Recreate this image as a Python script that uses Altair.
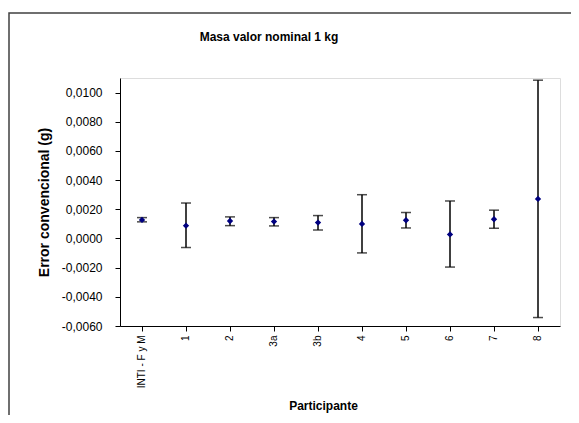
import altair as alt
import pandas as pd

participants = ["INTI - F y M", "1", "2", "3a", "3b", "4", "5", "6", "7", "8"]
values = [0.00127, 0.00088, 0.00120, 0.00116, 0.00109, 0.00100, 0.00125, 0.00028, 0.00132, 0.00271]
lower = [0.00114, -0.00062, 0.00088, 0.00086, 0.00058, -0.00099, 0.00072, -0.00196, 0.00070, -0.00542]
upper = [0.00143, 0.00243, 0.00148, 0.00143, 0.00157, 0.00300, 0.00178, 0.00257, 0.00194, 0.01085]
y_ticks = [-0.006, -0.004, -0.002, 0.0, 0.002, 0.004, 0.006, 0.008, 0.010]
chart_title = ["Masa valor nominal 1 kg"]

df = pd.DataFrame({"p": participants, "v": values, "lo": lower, "hi": upper})

FONT = "Liberation Sans"

x = alt.X("p:N", sort=participants, title="Participante",
          scale=alt.Scale(paddingInner=0, paddingOuter=0),
          axis=alt.Axis(labelAngle=-90, labelAlign="right", labelBaseline="middle",
                        labelPadding=4, tickSize=5, domainColor="black", tickColor="black",
                        labelFont=FONT, labelFontSize=10, labelColor="black",
                        titleFont=FONT, titleFontSize=12, titleFontWeight="bold",
                        titleColor="black", titlePadding=13, titleX=203, labelLimit=200))
yscale = alt.Scale(domain=[-0.006, 0.011], nice=False, zero=False)

yaxis = alt.Axis(values=y_ticks, format=",.4f", grid=False, tickSize=5,
                 domainColor="black", tickColor="black", labelPadding=13,
                 labelOverlap=False,
                 labelFont=FONT, labelFontSize=12, labelColor="black",
                 titleFont=FONT, titleFontSize=14, titleFontWeight="bold",
                 titleColor="black", titlePadding=10)

base = alt.Chart(df)

bars = base.mark_rule(color="black", strokeWidth=1.5).encode(
    x=x,
    y=alt.Y("lo:Q", scale=yscale, title="Error convencional (g)", axis=yaxis),
    y2="hi:Q",
)
cap_lo = base.mark_tick(color="black", thickness=1.5, size=10, orient="horizontal").encode(
    x=alt.X("p:N", sort=participants), y=alt.Y("lo:Q", scale=yscale, axis=yaxis))
cap_hi = base.mark_tick(color="black", thickness=1.5, size=10, orient="horizontal").encode(
    x=alt.X("p:N", sort=participants), y=alt.Y("hi:Q", scale=yscale, axis=yaxis))
pts = base.mark_point(shape="diamond", filled=True, color="#000080", size=40, opacity=1).encode(
    x=alt.X("p:N", sort=participants), y=alt.Y("v:Q", scale=yscale, axis=yaxis))

frame = alt.Chart(pd.DataFrame({"a": [0]})).mark_rect(
    fill=None, stroke="#404040", strokeWidth=1.5).encode(
    x=alt.value(-111), x2=alt.value(520), y=alt.value(-65), y2=alt.value(420))

title = alt.Chart(pd.DataFrame({"t": chart_title})).mark_text(
    font=FONT, fontSize=12, fontWeight="bold", color="black", align="center",
    baseline="middle").encode(text="t:N", x=alt.value(149), y=alt.value(-41))

chart = alt.layer(frame, title, bars, cap_lo, cap_hi, pts).properties(
    width=440, height=248,
    padding={"left": 112, "top": 70, "right": 11, "bottom": 89},
    autosize=alt.AutoSizeParams(type="none"),
).configure_view(stroke=None).configure_axis(labelOverlap=False).configure(
    locale={"number": {"decimal": ",", "thousands": ".", "grouping": [3],
                       "currency": ["$", ""], "minus": "-"}}
)

chart.save("out.html", embed_options={"renderer": "svg", "actions": False})
